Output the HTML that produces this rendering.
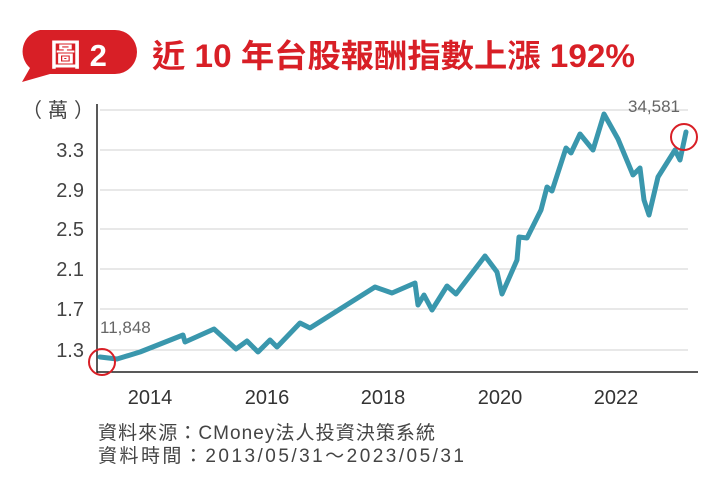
<!DOCTYPE html>
<html><head><meta charset="utf-8"><style>
body{margin:0;background:#fff;width:720px;height:489px;overflow:hidden;font-family:"Liberation Sans","Noto Sans CJK TC",sans-serif;}
</style></head><body>
<svg width="720" height="489" viewBox="0 0 720 489" xmlns="http://www.w3.org/2000/svg" style="position:absolute;left:0;top:0">
<path d="M40 30 H115 A22 22 0 0 1 115 74 H50 L22 82 L30 68 A22 22 0 0 1 40 30 Z" fill="#d81f26"/>
<text x="50" y="66" font-size="31" font-weight="bold" fill="#fff" font-family="Liberation Sans,Noto Sans CJK TC,sans-serif">圖 2</text>
<text x="152" y="67" font-size="32" font-weight="bold" fill="#d81f26" textLength="483" lengthAdjust="spacingAndGlyphs" font-family="Liberation Sans,Noto Sans CJK TC,sans-serif">近 10 年台股報酬指數上漲 192%</text>
<g stroke="#d0d0d0" stroke-width="1">
<line x1="100" y1="110" x2="688" y2="110"/><line x1="100" y1="150" x2="688" y2="150"/><line x1="100" y1="190" x2="688" y2="190"/><line x1="100" y1="229" x2="688" y2="229"/><line x1="100" y1="269" x2="688" y2="269"/><line x1="100" y1="309" x2="688" y2="309"/><line x1="100" y1="350" x2="688" y2="350"/>
</g>
<line x1="97" y1="104" x2="97" y2="373" stroke="#222" stroke-width="1.5"/>
<line x1="97" y1="372" x2="698" y2="372" stroke="#222" stroke-width="1.5"/>
<g font-size="20" fill="#444" text-anchor="end">
<text x="84" y="157">3.3</text><text x="84" y="197">2.9</text><text x="84" y="236">2.5</text><text x="84" y="276">2.1</text><text x="84" y="316">1.7</text><text x="84" y="357">1.3</text>
</g>
<text x="22" y="117" font-size="20" fill="#444" textLength="72">（萬）</text>
<g font-size="20" fill="#333" text-anchor="middle">
<text x="150" y="404">2014</text><text x="267" y="404">2016</text><text x="383" y="404">2018</text><text x="500" y="404">2020</text><text x="616" y="404">2022</text>
</g>
<text x="100" y="333" font-size="17" fill="#666">11,848</text>
<text x="628" y="112" font-size="17" fill="#666">34,581</text>
<polyline fill="none" stroke="#3a97ad" stroke-width="5" stroke-linejoin="round" stroke-linecap="round" points="100,357 117,359 140,352 183,335 185,342 214,329 236,349 247,341 258,352 270,340 277,347 300,323 310,328 375,287 392,293 415,283 418,305 424,295 432,310 447,286 456,294 485,256 497,272 502,294 517,260 519,237 527,238 541,210 547,187 552,191 566,148 571,153 580,134 593,150 604,114 618,139 633,175 640,168 644,200 649,215 658,177 675,150 680,160 686,132"/>
<circle cx="102" cy="362" r="13" fill="none" stroke="#d81f26" stroke-width="2"/>
<circle cx="684" cy="137" r="13" fill="none" stroke="#d81f26" stroke-width="2"/>
<text x="98" y="439" font-size="19" fill="#444" textLength="337">資料來源：CMoney法人投資決策系統</text>
<text x="98" y="462" font-size="19" fill="#444" textLength="366">資料時間：2013/05/31～2023/05/31</text>
</svg>
</body></html>
